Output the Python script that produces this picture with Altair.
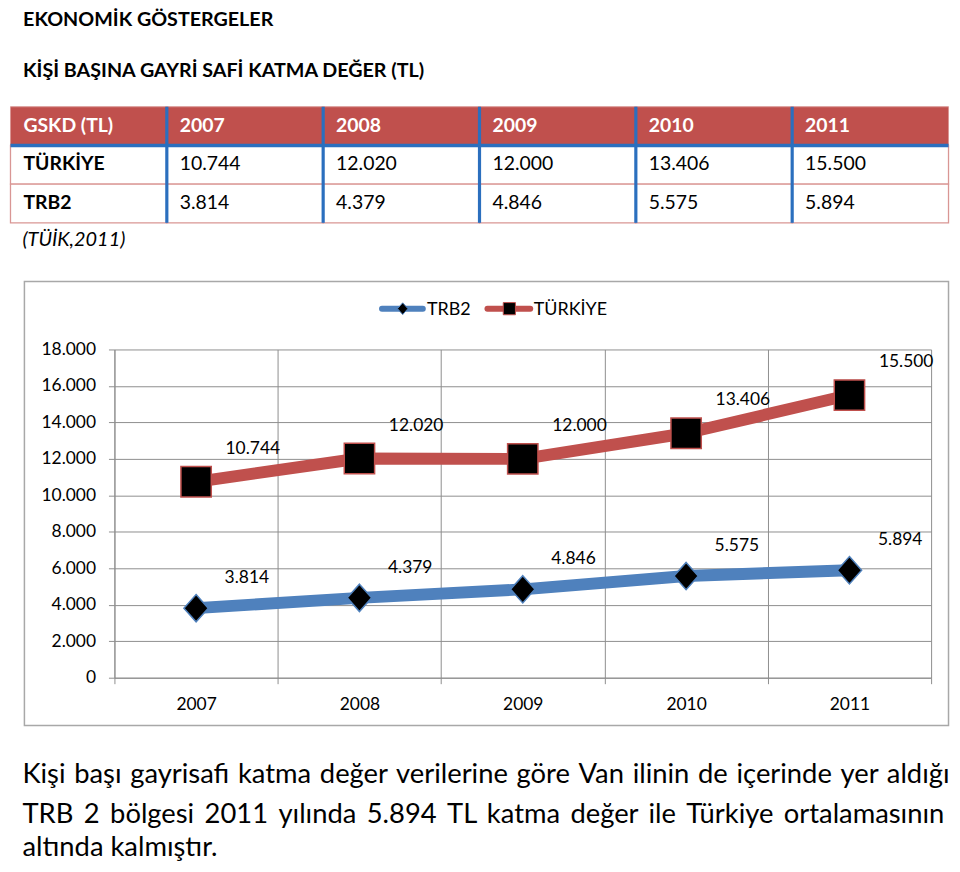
import altair as alt
import pandas as pd

# ------------------------------------------------------------------ data
years = ["2007", "2008", "2009", "2010", "2011"]
turkiye_values = [10744, 12020, 12000, 13406, 15500]
trb2_values = [3814, 4379, 4846, 5575, 5894]
series_names = ["TRB2", "TÜRKİYE"]
y_tick_values = [0, 2000, 4000, 6000, 8000, 10000, 12000, 14000, 16000, 18000]
table_corner = "GSKD (TL)"
page_title = "EKONOMİK GÖSTERGELER"
section_title = "KİŞİ BAŞINA GAYRİ SAFİ KATMA DEĞER (TL)"
source_note = "(TÜİK,2011)"
paragraph_lines = [
    "Kişi başı gayrisafi katma değer verilerine göre Van ilinin de içerinde yer aldığı",
    "TRB 2 bölgesi 2011 yılında 5.894 TL katma değer ile Türkiye ortalamasının",
    "altında kalmıştır.",
]

# ------------------------------------------------------------------ styles / layout
FONT = "Lato"
BLUE = "#4F81BD"
RED = "#C0504D"
TABLE_BLUE = "#2B6FBE"
PINK = "#D99694"
GRID = "#8E8E8E"
PLOT_W = 821
X0 = -104.5          # page left edge relative to the shared panel origin
X_RIGHT = 838.5      # right edge of table / chart frame
DIAMOND = "M0,-1.12L1,0L0,1.12L-1,0Z"
# extra (hair) spacing appended to each word gap to imitate the justified paragraph
JUSTIFY_GAP = [" \u200A", " \u200A\u200A", " "]


def text_layer(text, x, y, size, weight="normal", style="normal", color="black"):
    return alt.Chart(pd.DataFrame({"t": [text]})).mark_text(
        font=FONT, fontSize=size, fontWeight=weight, fontStyle=style,
        color=color, align="left", baseline="alphabetic"
    ).encode(x=alt.value(x), y=alt.value(y), text="t:N")


# ------------------------------------------------------------------ panel A: titles
panel_a = alt.layer(
    text_layer(page_title, X0 + 12.7, 16, 19.8, "bold"),
    text_layer(section_title, X0 + 12.7, 67, 19.8, "bold"),
).properties(width=PLOT_W, height=92)

# ------------------------------------------------------------------ panel B: table
col_keys = [table_corner] + years
row_keys = ["header", "TÜRKİYE", "TRB2"]
cells = []
for c in col_keys:
    cells.append({"row": "header", "col": c, "label": c, "kind": "head", "value": None})
for name, vals in [("TÜRKİYE", turkiye_values), ("TRB2", trb2_values)]:
    cells.append({"row": name, "col": table_corner, "label": name, "kind": "rowhead", "value": None})
    for yr, v in zip(years, vals):
        cells.append({"row": name, "col": yr, "label": "", "kind": "val", "value": v})
cells_df = pd.DataFrame(cells)

TOP, BOTTOM = 5, 121.7
xs = alt.Scale(type="band", domain=col_keys, range=[X0, X_RIGHT], paddingInner=0, paddingOuter=0)
ys = alt.Scale(type="band", domain=row_keys, range=[TOP, BOTTOM], paddingInner=0, paddingOuter=0)

base_t = alt.Chart(cells_df)
header_fill = base_t.transform_filter(alt.datum.kind == "head").mark_rect(
    fill=RED, stroke=PINK, strokeWidth=1
).encode(x=alt.X("col:N", scale=xs, axis=None), y=alt.Y("row:N", scale=ys, axis=None))
body_fill = base_t.transform_filter(alt.datum.kind != "head").mark_rect(
    fill="white", stroke=PINK, strokeWidth=1.3
).encode(x=alt.X("col:N", scale=xs, axis=None), y=alt.Y("row:N", scale=ys, axis=None))
vrules = alt.Chart(pd.DataFrame({"col": years})).mark_rule(
    color=TABLE_BLUE, strokeWidth=3.2
).encode(
    x=alt.X("col:N", scale=xs, axis=None, bandPosition=0),
    y=alt.value(TOP), y2=alt.value(BOTTOM),
)
hrule = alt.Chart(pd.DataFrame({"row": ["TÜRKİYE"]})).mark_rule(
    color=TABLE_BLUE, strokeWidth=3.5
).encode(
    y=alt.Y("row:N", scale=ys, axis=None, bandPosition=0),
    x=alt.value(X0), x2=alt.value(X_RIGHT),
)


def cell_text(kind, weight, color, fmt_value=False):
    enc = dict(
        x=alt.X("col:N", scale=xs, axis=None, bandPosition=0),
        y=alt.Y("row:N", scale=ys, axis=None),
    )
    enc["text"] = alt.Text("value:Q", format=",d") if fmt_value else alt.Text("label:N")
    return base_t.transform_filter(alt.datum.kind == kind).mark_text(
        font=FONT, fontSize=19.5, fontWeight=weight, color=color,
        align="left", baseline="alphabetic", dx=13, dy=5.5
    ).encode(**enc)


panel_b = alt.layer(
    header_fill, body_fill, vrules, hrule,
    cell_text("head", "bold", "white"),
    cell_text("rowhead", "bold", "black"),
    cell_text("val", "normal", "black", fmt_value=True),
    text_layer(source_note, X0 + 12, 145, 20, style="italic"),
).properties(width=PLOT_W, height=180)

# ------------------------------------------------------------------ panel C: line chart
line_df = pd.DataFrame({
    "year": years * 2,
    "value": trb2_values + turkiye_values,
    "series": [series_names[0]] * 5 + [series_names[1]] * 5,
})

x_enc = alt.X(
    "year:O",
    scale=alt.Scale(type="band", domain=years, paddingInner=0, paddingOuter=0),
    bandPosition=0.5,
    axis=alt.Axis(
        title=None, labelAngle=0, tickBand="extent", grid=True, gridColor=GRID,
        domainColor=GRID, tickColor=GRID, tickSize=6, labelPadding=12,
        labelFont=FONT, labelFontSize=17.5, labelColor="black",
    ),
)
y_enc = alt.Y(
    "value:Q",
    scale=alt.Scale(domain=[0, 18000], nice=False, zero=True),
    axis=alt.Axis(
        title=None, values=y_tick_values, format=",d", grid=True, gridColor=GRID,
        domainColor=GRID, tickColor=GRID, tickSize=6, labelPadding=13,
        labelFont=FONT, labelFontSize=17.5, labelColor="black",
    ),
)

base_l = alt.Chart(line_df)
lines = base_l.mark_line(strokeWidth=12, strokeJoin="round", strokeCap="round").encode(
    x=x_enc, y=y_enc,
    color=alt.Color("series:N", scale=alt.Scale(domain=series_names, range=[BLUE, RED]), legend=None),
    detail="series:N",
)
trb2_pts = base_l.transform_filter(alt.datum.series == series_names[0]).mark_point(
    shape=DIAMOND, size=600, filled=True, fill="black", stroke=BLUE, strokeWidth=1.5, opacity=1
).encode(x=x_enc, y=y_enc)
tr_pts = base_l.transform_filter(alt.datum.series == series_names[1]).mark_point(
    shape="square", size=930, filled=True, fill="black", stroke=RED, strokeWidth=1.5, opacity=1
).encode(x=x_enc, y=y_enc)
trb2_lbl = base_l.transform_filter(alt.datum.series == series_names[0]).mark_text(
    font=FONT, fontSize=17.5, color="black", dx=51, dy=-30
).encode(x=x_enc, y=y_enc, text=alt.Text("value:Q", format=",d"))
tr_lbl = base_l.transform_filter(alt.datum.series == series_names[1]).mark_text(
    font=FONT, fontSize=17.5, color="black", dx=57, dy=-33
).encode(x=x_enc, y=y_enc, text=alt.Text("value:Q", format=",d"))

one = pd.DataFrame({"k": [0]})
frame = alt.Chart(one).mark_rect(fillOpacity=0, stroke="#A8A8A8", strokeWidth=1.5).encode(
    x=alt.value(-90.5), x2=alt.value(X_RIGHT), y=alt.value(-68.25), y2=alt.value(378)
)

leg_df = pd.DataFrame({"series": series_names})
LEG_Y = -41


def leg(series_idx):
    return alt.Chart(leg_df).transform_filter(alt.datum.series == series_names[series_idx])


leg_b_line = leg(0).mark_rule(color=BLUE, strokeWidth=6, strokeCap="round").encode(
    x=alt.value(269), x2=alt.value(310), y=alt.value(LEG_Y))
leg_b_pt = leg(0).mark_point(
    shape=DIAMOND, size=110, filled=True, fill="black", stroke=BLUE, strokeWidth=1, opacity=1
).encode(x=alt.value(289.8), y=alt.value(LEG_Y))
leg_b_txt = leg(0).mark_text(font=FONT, fontSize=18, color="black", align="left", baseline="alphabetic").encode(
    x=alt.value(314.2), y=alt.value(LEG_Y + 6.3), text="series:N")
leg_r_line = leg(1).mark_rule(color=RED, strokeWidth=6, strokeCap="round").encode(
    x=alt.value(375), x2=alt.value(418), y=alt.value(LEG_Y))
leg_r_pt = leg(1).mark_point(
    shape="square", size=150, filled=True, fill="black", stroke=RED, strokeWidth=1, opacity=1
).encode(x=alt.value(397), y=alt.value(LEG_Y))
leg_r_txt = leg(1).mark_text(font=FONT, fontSize=18, color="black", align="left", baseline="alphabetic").encode(
    x=alt.value(421.5), y=alt.value(LEG_Y + 6.3), text="series:N")

panel_c = alt.layer(
    lines, trb2_pts, tr_pts, trb2_lbl, tr_lbl, frame,
    leg_b_line, leg_b_pt, leg_b_txt, leg_r_line, leg_r_pt, leg_r_txt,
).properties(width=PLOT_W, height=330)

# ------------------------------------------------------------------ panel D: paragraph
para_y = [57, 97, 130.5]
panel_d = alt.layer(*[
    text_layer(line.replace(" ", gap), X0 + 12, yy, 27.5)
    for line, gap, yy in zip(paragraph_lines, JUSTIFY_GAP, para_y)
]).properties(width=PLOT_W, height=136)

chart = alt.vconcat(panel_a, panel_b, panel_c, panel_d, spacing=0).properties(
    padding=0, background="white"
).configure(
    locale={"number": {"decimal": ",", "thousands": ".", "grouping": [3], "currency": ["", " TL"]}}
).configure_view(stroke=None)

chart.save("out.html", embed_options={"renderer": "svg", "actions": False})
